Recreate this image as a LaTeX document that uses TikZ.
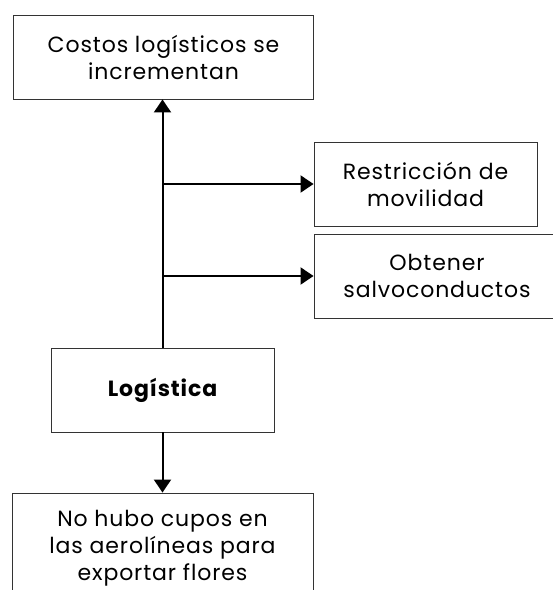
\documentclass[tikz,border=0pt]{standalone}
\usepackage{fontspec}
\setmainfont{Poppins}[LetterSpace=4]
\usetikzlibrary{arrows.meta}

\begin{document}
\begin{tikzpicture}[x=1pt,y=-1pt,
  caja/.style={draw=black!80,line width=0.9pt,align=center,inner sep=0pt,
    font=\fontsize{22}{27}\selectfont},
  flecha/.style={line width=2pt,-{Triangle[length=13pt,width=17pt]}}]
\useasboundingbox (0,0) rectangle (553,590);
% boxes
\node[caja,minimum width=300pt,minimum height=84pt] (costos) at (163.5,57)
  {Costos logísticos se\\incrementan};
\node[caja,minimum width=223pt,minimum height=84pt] (restriccion) at (425.5,184)
  {Restricción de\\movilidad};
\node[caja,minimum width=246pt,minimum height=84pt] (obtener) at (437,276)
  {Obtener\\salvoconductos};
\node[caja,minimum width=223pt,minimum height=84pt] (logistica) at (162.5,390)
  {\bfseries Logística};
\node[caja,minimum width=301pt,minimum height=110pt] (cupos) at (162.5,548)
  {No hubo cupos en\\las aerolíneas para\\exportar flores};
% arrows
\draw[flecha] (logistica.north) -- (logistica.north |- costos.south);
\draw[flecha] (logistica.north |- restriccion.west) -- (restriccion.west);
\draw[flecha] (logistica.north |- obtener.west) -- (obtener.west);
\draw[flecha] (logistica.south) -- (cupos.north);
\end{tikzpicture}
\end{document}
